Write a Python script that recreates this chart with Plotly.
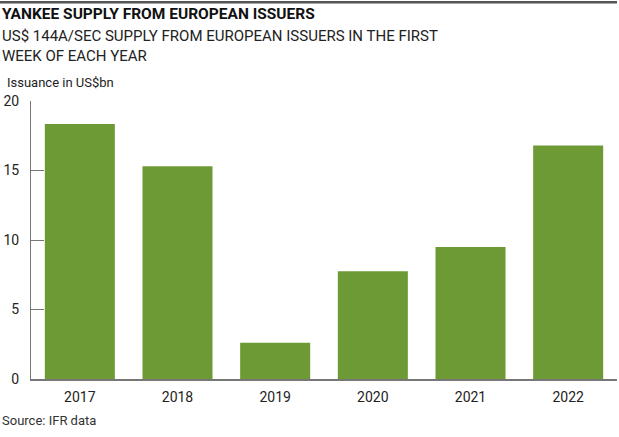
import plotly.graph_objects as go

years = ["2017", "2018", "2019", "2020", "2021", "2022"]
issuance = [18.35, 15.3, 2.6, 7.75, 9.5, 16.8]
y_ticks = [0, 5, 10, 15, 20]

title = "YANKEE SUPPLY FROM EUROPEAN ISSUERS"
subtitle = "US$ 144A/SEC SUPPLY FROM EUROPEAN ISSUERS IN THE FIRST<br>WEEK OF EACH YEAR"
axis_title = "Issuance in US$bn"
source = "Source: IFR data"

FONT = "Roboto"
fig = go.Figure(go.Bar(x=years, y=issuance, marker=dict(color="#6E9A36", line=dict(width=0)),
                       hoverinfo="x+y"))

fig.update_layout(
    width=619, height=437,
    margin=dict(l=31, r=2, t=101, b=58),
    paper_bgcolor="white", plot_bgcolor="white",
    bargap=0.283, showlegend=False,
    font=dict(family=FONT, color="#222"),
    xaxis=dict(showgrid=False, showline=True, linecolor="#777", linewidth=1.5, automargin=False,
               ticks="", tickfont=dict(size=14, color="#222"), ticklabelstandoff=4),
    yaxis=dict(range=[0, 20], tickvals=y_ticks, showgrid=False, showline=True, automargin=False,
               linecolor="#777", linewidth=1, ticks="inside", ticklen=13, tickcolor="#777",
               tickfont=dict(size=14, color="#222"), ticklabelstandoff=8, zeroline=False),
    shapes=[dict(type="line", xref="paper", yref="paper", x0=-0.053, x1=1.0, y0=1.355, y1=1.355,
                 line=dict(color="#555", width=2.5), layer="above")],
    annotations=[
        dict(text="<b>" + title + "</b>", xref="paper", yref="paper", x=-0.053, y=1.313,
             xanchor="left", yanchor="middle", showarrow=False, font=dict(size=15.5, color="#111")),
        dict(text=subtitle, xref="paper", yref="paper", x=-0.053, y=1.198,
             xanchor="left", yanchor="middle", showarrow=False, align="left",
             font=dict(size=15, color="#222")),
        dict(text=axis_title, xref="paper", yref="paper", x=-0.045, y=1.068,
             xanchor="left", yanchor="middle", showarrow=False, font=dict(size=13, color="#222")),
        dict(text=source, xref="paper", yref="paper", x=-0.053, y=-0.151,
             xanchor="left", yanchor="middle", showarrow=False, font=dict(size=13, color="#333")),
    ],
)

fig.write_html("out.html", config={"displayModeBar": False},
               post_script="document.body.style.margin='0';")
